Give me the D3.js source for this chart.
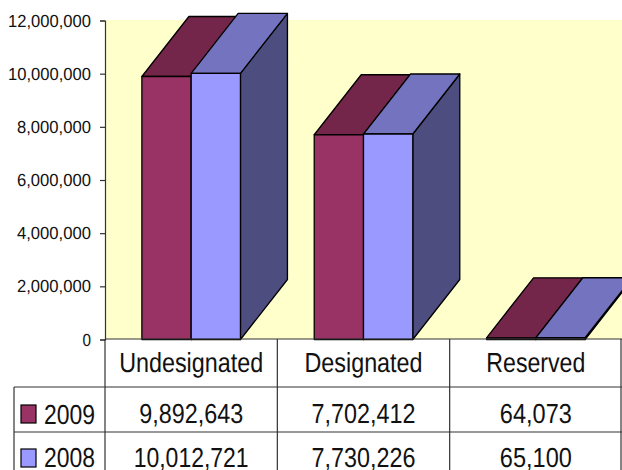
<!DOCTYPE html>
<html>
<head>
<meta charset="utf-8">
<script src="https://cdn.jsdelivr.net/npm/d3@7"></script>
<style>
  html, body { margin:0; padding:0; background:#fff; overflow:hidden; }
  svg { display:block; }
  text { font-family:"Liberation Sans", Arial, sans-serif; fill:#111; text-rendering:geometricPrecision; }
</style>
</head>
<body>
<svg id="chart" width="622" height="470"></svg>
<script>
const categories = ['Undesignated', 'Designated', 'Reserved'];
const seriesNames = ['2009', '2008'];
const values2009 = [9892643, 7702412, 64073];
const values2008 = [10012721, 7730226, 65100];
const valueLabels2009 = ['9,892,643', '7,702,412', '64,073'];
const valueLabels2008 = ['10,012,721', '7,730,226', '65,100'];
const yTicks = [0, 2000000, 4000000, 6000000, 8000000, 10000000, 12000000];

// front / top / side colours per series
const colors = {
  '2009': {front:'#993366', top:'#732649', side:'#732649'},
  '2008': {front:'#9999ff', top:'#7373bf', side:'#4d4d80'}
};
const series = [
  {name:'2009', values:values2009, labels:valueLabels2009},
  {name:'2008', values:values2008, labels:valueLabels2008}
];

const plot = {left:105, right:622, top:20, bottom:339};
const depthX = 47, depthY = 60;
const rowY = [339, 387, 432, 477];
const tableLeft = 14;

const svg = d3.select('#chart');

const x0 = d3.scaleBand().domain(categories).range([plot.left, plot.right])
  .paddingInner(0.428).paddingOuter(0.214);
const x1 = d3.scaleBand().domain(seriesNames).range([0, x0.bandwidth()]);
const y = d3.scaleLinear().domain([0, 12000000]).range([plot.bottom + 0.5, plot.top + 0.5]);

// plot background
svg.append('rect')
  .attr('x', plot.left).attr('y', plot.top)
  .attr('width', plot.right - plot.left).attr('height', plot.bottom - plot.top)
  .attr('fill', '#ffffcc');

// 3d bars
const barG = svg.append('g').attr('stroke', '#000').attr('stroke-width', 1.3).attr('stroke-linejoin', 'round');
categories.forEach((cat, i) => {
  series.forEach(s => {
    const c = colors[s.name];
    const xa = x0(cat) + x1(s.name);
    const xb = xa + x1.bandwidth();
    const yt = y(s.values[i]);
    const yb = y(0);
    barG.append('polygon') // side
      .attr('points', [[xb,yb],[xb+depthX,yb-depthY],[xb+depthX,yt-depthY],[xb,yt]].join(' '))
      .attr('fill', c.side);
    barG.append('polygon') // top
      .attr('points', [[xa,yt],[xa+depthX,yt-depthY],[xb+depthX,yt-depthY],[xb,yt]].join(' '))
      .attr('fill', c.top);
    barG.append('rect') // front
      .attr('x', xa).attr('y', yt)
      .attr('width', x1.bandwidth()).attr('height', yb - yt)
      .attr('fill', c.front);
  });
});

// y axis
const axis = svg.append('g')
  .attr('transform', `translate(${plot.left},0)`)
  .call(d3.axisLeft(y).tickValues(yTicks).tickSize(5).tickPadding(9).tickFormat(d3.format(',')));
axis.selectAll('path, line').attr('stroke', '#333').attr('stroke-width', 1.2);
axis.selectAll('text')
  .attr('font-size', 17.5)
  .attr('lengthAdjust', 'spacingAndGlyphs')
  .attr('textLength', d => d === 0 ? 8.5 : (d >= 10000000 ? 83 : 74));

// data table grid
const grid = svg.append('g').attr('stroke', '#333').attr('stroke-width', 1.2);
const edges = [plot.left, plot.left + x0.step(), plot.left + 2 * x0.step(), plot.right - 1];
grid.append('line').attr('x1', plot.left).attr('x2', plot.right).attr('y1', rowY[0]).attr('y2', rowY[0]);
[rowY[1], rowY[2]].forEach(v => {
  grid.append('line').attr('x1', tableLeft).attr('x2', plot.right).attr('y1', v).attr('y2', v);
});
edges.forEach(v => {
  grid.append('line').attr('x1', v).attr('x2', v).attr('y1', rowY[0]).attr('y2', rowY[3]);
});
grid.append('line').attr('x1', tableLeft).attr('x2', tableLeft).attr('y1', rowY[1]).attr('y2', rowY[3]);

// table text, squeezed sideways like the original
function cell(txt, cx, baseline, width) {
  svg.append('text')
    .attr('x', cx).attr('y', baseline)
    .attr('text-anchor', 'middle').attr('font-size', 27.5)
    .attr('textLength', width).attr('lengthAdjust', 'spacingAndGlyphs')
    .text(txt);
}
const cw = {'Undesignated':144, 'Designated':118, 'Reserved':99};
categories.forEach(cat => {
  cell(cat, x0(cat) + x0.bandwidth() / 2, 372, cw[cat]);
});
series.forEach((s, r) => {
  const base = r === 0 ? 422.5 : 466.5;
  s.labels.forEach((lab, i) => {
    const w = lab.length === 10 ? 115 : (lab.length === 9 ? 104 : 72);
    cell(lab, x0(categories[i]) + x0.bandwidth() / 2, base, w);
  });
  // legend key
  svg.append('rect')
    .attr('x', 21).attr('y', (r === 0 ? 405 : 449))
    .attr('width', 15).attr('height', 18)
    .attr('fill', colors[s.name].front)
    .attr('stroke', '#000').attr('stroke-width', 1.2);
  svg.append('text')
    .attr('x', 44).attr('y', r === 0 ? 424 : 467)
    .attr('font-size', 27.5)
    .attr('textLength', 51).attr('lengthAdjust', 'spacingAndGlyphs')
    .text(s.name);
});
</script>
</body>
</html>
